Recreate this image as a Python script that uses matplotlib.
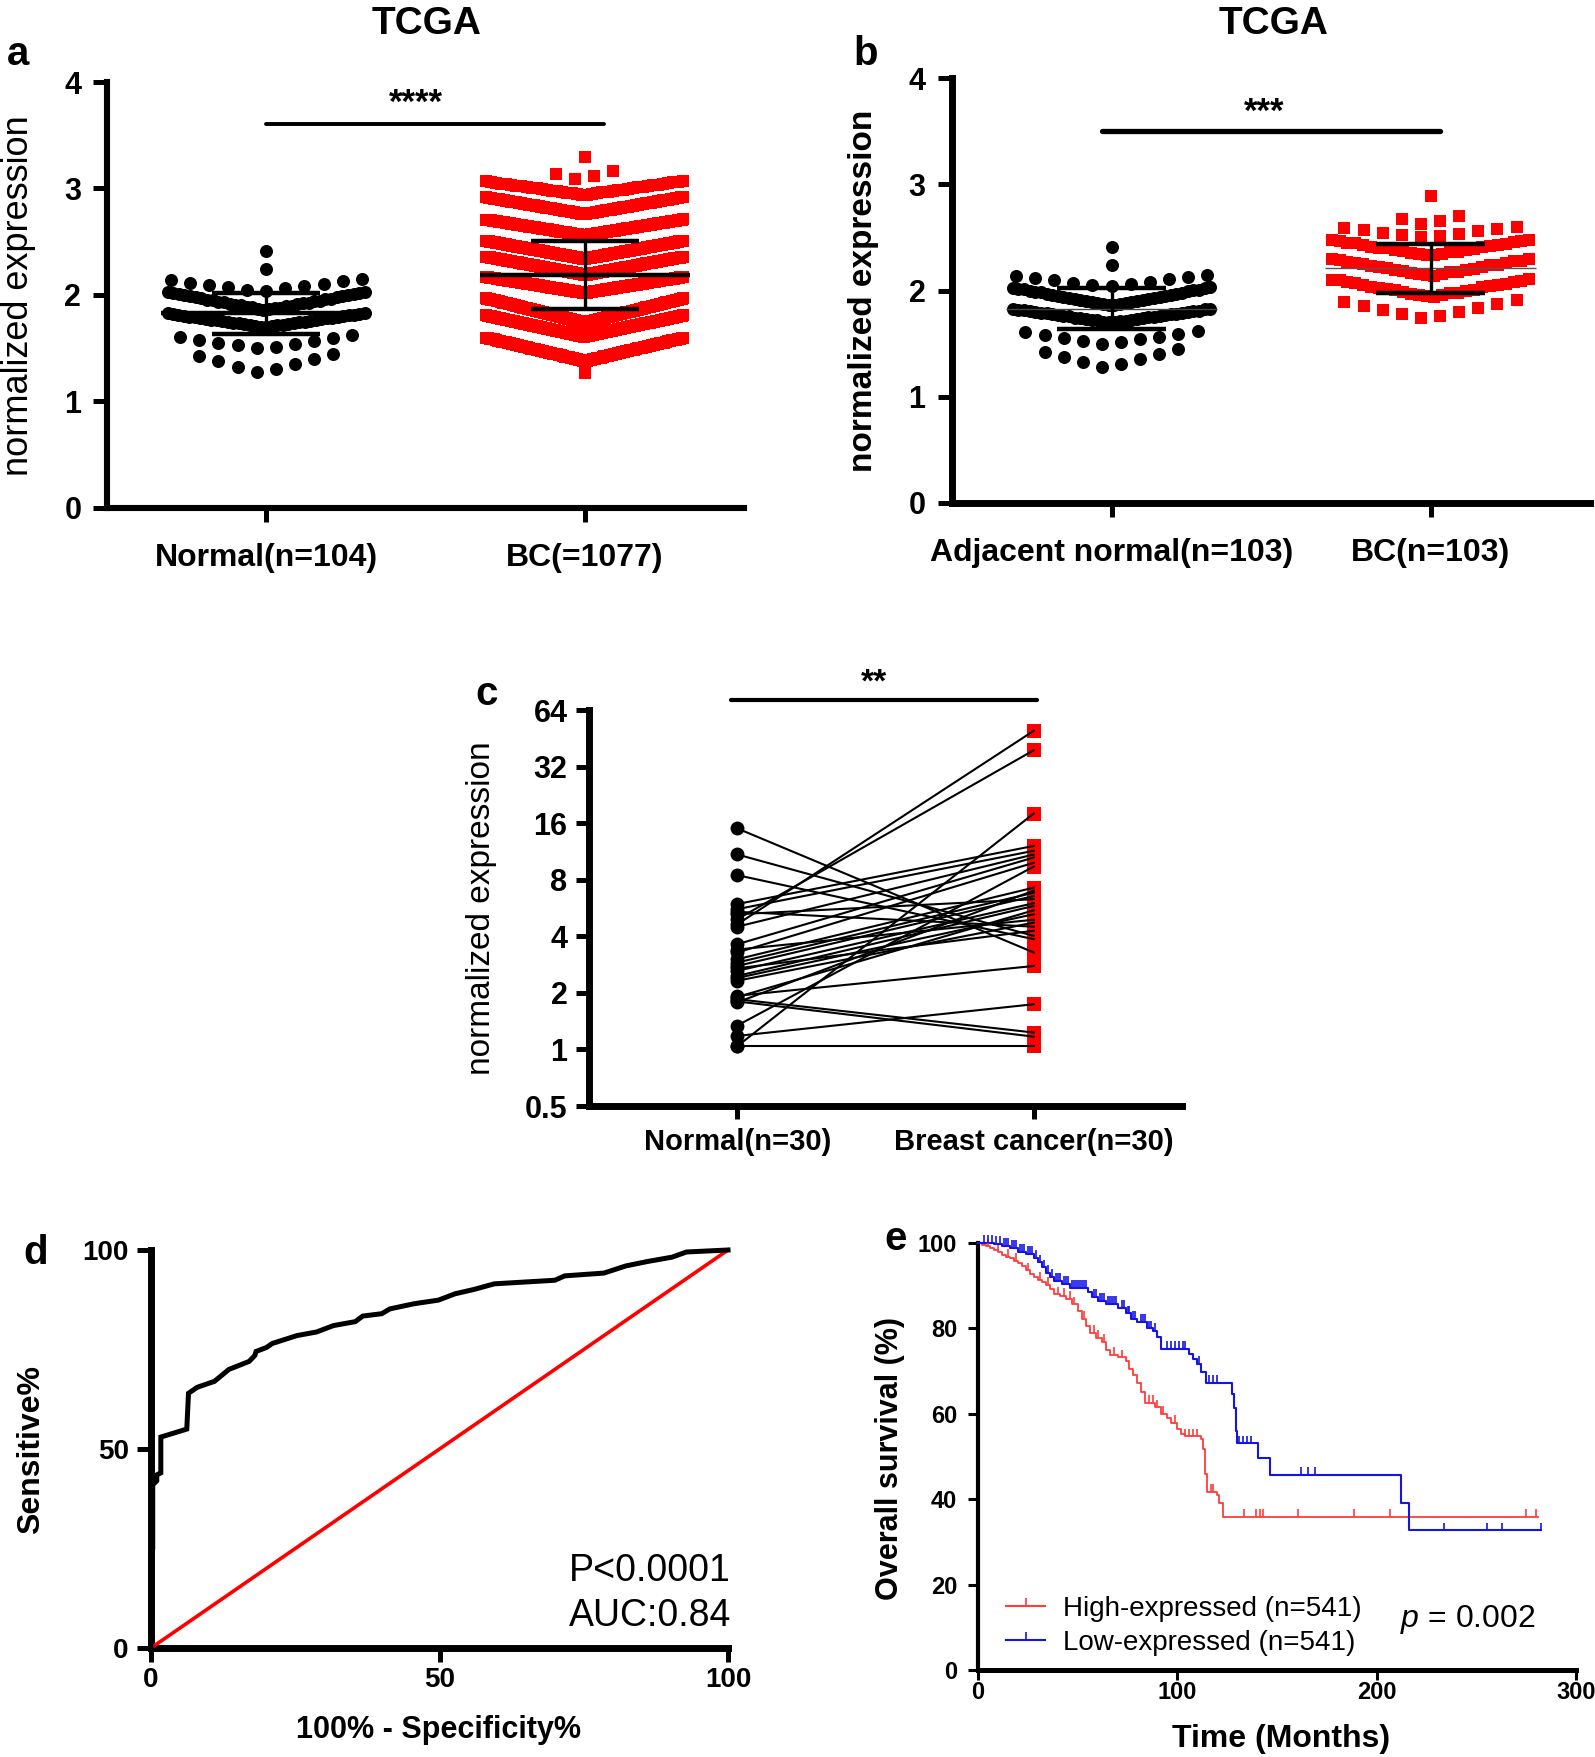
import numpy as np
import matplotlib
matplotlib.use('Agg')
import matplotlib.pyplot as plt
from matplotlib.lines import Line2D
from matplotlib.ticker import NullLocator

plt.rcParams['font.family'] = ['Liberation Sans', 'DejaVu Sans']
plt.rcParams['mathtext.fontset'] = 'custom'
plt.rcParams['mathtext.it'] = 'Liberation Sans:italic'
plt.rcParams['mathtext.rm'] = 'Liberation Sans'

# ---------------- data ----------------
# panel a : rows of the scatter-dot plot (value at row edge, value at row centre, count)
cats_a = ['Normal(n=104)', 'BC(=1077)']
a_norm_hi = [2.41, 2.24, 2.15, 2.03, 1.83, 1.62, 1.45]
a_norm_lo = [2.41, 2.24, 2.04, 1.86, 1.70, 1.50, 1.28]
a_norm_n = [1, 1, 11, 36, 37, 10, 8]
a_bc_hi = [3.30, 3.16, 3.07, 2.92, 2.71, 2.51, 2.36, 2.17, 1.97, 1.81, 1.60, 1.27]
a_bc_lo = [3.30, 3.09, 2.94, 2.76, 2.56, 2.34, 2.19, 2.02, 1.74, 1.61, 1.38, 1.27]
a_bc_n = [1, 4, 40, 80, 110, 140, 150, 170, 150, 130, 101, 1]
a_mean = [1.83, 2.19]
a_sd_hi = [2.02, 2.51]
a_sd_lo = [1.63, 1.87]

# panel b
cats_b = ['Adjacent normal(n=103)', 'BC(n=103)']
b_norm_hi = [2.41, 2.24, 2.15, 2.03, 1.83, 1.62, 1.45]
b_norm_lo = [2.41, 2.24, 2.04, 1.86, 1.70, 1.50, 1.28]
b_norm_n = [1, 1, 11, 36, 36, 10, 8]
b_bc_hi = [2.89, 2.70, 2.60, 2.48, 2.30, 2.11, 1.91]
b_bc_lo = [2.89, 2.63, 2.50, 2.33, 2.14, 1.94, 1.74]
b_bc_n = [1, 4, 10, 26, 26, 26, 10]
b_mean = [1.83, 2.21]
b_sd_hi = [2.02, 2.44]
b_sd_lo = [1.64, 1.98]

# panel c : paired samples
cats_c = ['Normal(n=30)', 'Breast cancer(n=30)']
c_normal = [15.0, 10.9, 8.46, 4.63, 4.93, 1.04, 1.34, 1.04, 1.18, 1.85,
            1.80, 1.93, 5.94, 5.58, 5.24, 4.50, 3.63, 3.28, 3.02, 2.90,
            2.78, 2.62, 2.46, 2.40, 2.32, 1.78, 1.90, 5.40, 2.70, 3.40]
c_cancer = [3.28, 4.02, 3.86, 49.6, 39.1, 18.0, 9.40, 1.04, 1.74, 1.23,
            1.17, 2.78, 12.1, 11.4, 6.30, 10.9, 10.5, 9.85, 7.26, 6.82,
            6.55, 6.00, 5.80, 5.24, 4.73, 7.00, 5.50, 4.50, 4.28, 4.90]
c_yticks = [0.5, 1, 2, 4, 8, 16, 32, 64]
c_yticklabels = ['0.5', '1', '2', '4', '8', '16', '32', '64']

# panel d : ROC curve
roc_x = [0, 0, 0.3, 0.3, 1.0, 1.0, 1.7, 1.7, 6.2, 6.5, 8, 11, 13.5, 17, 18, 18.2,
         20, 21, 25.3, 28.7, 31.6, 35.4, 36.7, 40, 41.4, 45.6, 49.8, 52.7, 56,
         59.5, 70, 71.7, 78.5, 82.3, 86, 90.3, 92.8, 100]
roc_y = [0, 24, 25, 41, 42, 43.5, 44, 53, 55, 64, 65.5, 67, 70, 72, 73.5, 74.5,
         75.5, 76.5, 78.5, 79.4, 81, 82, 83.4, 84, 85.2, 86.5, 87.4, 89, 90.1,
         91.5, 92.4, 93.5, 94.2, 96, 97.1, 98.2, 99.5, 100]

# panel e : Kaplan-Meier
high_t = [0, 2, 4, 6, 8, 10, 12, 14, 16, 18, 20, 22, 24, 26, 28, 30, 32, 34, 36, 38,
          41, 44, 47, 50, 52, 54, 56, 59, 62, 64, 66, 70, 74, 76, 78, 80, 82, 84,
          89, 92, 95, 97, 100, 102, 104, 112, 113, 114, 115, 120, 121, 122.8, 281]
high_s = [100, 99.6, 99.2, 98.8, 98.3, 97.8, 97.3, 96.8, 96.4, 95.8, 95.2, 94.5,
          93.6, 92.8, 92.0, 91.3, 90.8, 90.2, 89.2, 88.0, 87.6, 86.9, 85.6, 84.0,
          82.3, 80.5, 79.0, 77.8, 76.8, 75.0, 73.8, 73.2, 72.3, 70.5, 69.0, 67.2,
          65.0, 62.6, 61.5, 60.0, 59.0, 57.9, 56.5, 55.2, 54.7, 54.0, 51.8, 46.0,
          41.7, 40.9, 39.0, 35.8, 35.8]
high_cens = [5, 10, 15, 19, 25, 31, 35, 40, 43, 46, 48, 53, 58, 60, 63, 68, 72,
             86, 88, 90, 93, 99, 104, 106, 108, 110, 117, 118, 133.5, 139.4, 141.3,
             143, 160.6, 188.5, 206.7, 275, 280]
low_t = [0, 8, 12, 16, 20, 24, 28, 30, 32, 34, 36, 38, 42, 46, 55, 57, 60, 64, 70,
         74, 77, 80, 85, 88, 90, 92, 106, 108, 110, 112, 114.6, 127.6, 128.5,
         129.5, 130, 140.6, 146.5, 212.1, 216.2, 282.3]
low_s = [100, 99.8, 99.4, 98.9, 98.0, 97.4, 96.5, 95.5, 94.3, 93.0, 92.0, 91.2,
         90.5, 89.5, 88.6, 87.4, 86.5, 85.8, 84.8, 83.5, 82.3, 81.5, 80.0, 79.5,
         78.0, 75.2, 74.0, 72.8, 71.7, 69.8, 67.3, 64.6, 61.4, 56.0, 53.1, 49.6,
         45.7, 39.0, 32.7, 32.7]
low_cens = [3, 5, 7, 9, 11, 13, 14, 15, 17, 18, 19, 21, 22, 23, 25, 26, 27, 29, 31,
            33, 35, 37, 39, 40, 41, 43, 44, 45, 47, 48, 49, 50, 51, 52, 53, 54, 58,
            59, 61, 62, 63, 65, 66, 67, 68, 69, 72, 73, 75, 76, 78, 79, 82, 83, 84,
            86, 87, 89, 95, 97, 99, 101, 103, 104, 111, 116, 118, 120, 131, 133,
            135, 137, 161.8, 165.4, 168.9, 233.9, 255.2, 262.7, 282.3]

# ---------------- figure ----------------
W, H, DPI = 1595, 1757, 100
fig = plt.figure(figsize=(W / DPI, H / DPI), dpi=DPI)
fig.patch.set_facecolor('white')


def rect(l, t, r, b):
    return [l / W, 1 - b / H, (r - l) / W, (b - t) / H]


def ftext(x, y, s, **kw):
    fig.text(x / W, 1 - y / H, s, **kw)


def style(ax, spine_lw, tlen, tw, labelsize, xpad, ypad):
    for s in ['top', 'right']:
        ax.spines[s].set_visible(False)
    for s in ['left', 'bottom']:
        ax.spines[s].set_linewidth(spine_lw)
        ax.spines[s].set_capstyle('projecting')
    ax.tick_params(direction='out', length=tlen, width=tw, labelsize=labelsize,
                   colors='black')
    ax.tick_params(axis='x', pad=xpad)
    ax.tick_params(axis='y', pad=ypad)
    for lab in ax.get_xticklabels() + ax.get_yticklabels():
        lab.set_fontweight('bold')


def swarm(center, hi, lo, n, spacing=0.06, maxhalf=0.31):
    xs, ys = [], []
    for h, l, k in zip(hi, lo, n):
        half = min((k - 1) / 2 * spacing, maxhalf)
        pos = np.linspace(-half, half, k) if k > 1 else np.array([0.0])
        order = np.argsort(np.abs(pos), kind='stable')
        vals = np.linspace(l, h, k)
        y = np.empty(k)
        y[order] = vals
        xs.append(center + pos)
        ys.append(y)
    return np.concatenate(xs), np.concatenate(ys)


def dot_panel(ax, norm, bc, mean, sd_hi, sd_lo, mean_style):
    nx, ny = swarm(0, *norm)
    bx, by = swarm(1, *bc)
    ax.scatter(nx, ny, s=88, marker='o', color='black', linewidths=0, zorder=3)
    ax.scatter(bx, by, s=80, marker='s', color='#ff0000', linewidths=0, zorder=3)
    for i in range(2):
        ax.hlines(mean[i], i - 0.33, i + 0.33, zorder=5, **mean_style[i])
        ax.hlines([sd_hi[i], sd_lo[i]], i - 0.17, i + 0.17, color='black', lw=3.2, zorder=5)
        ax.vlines(i, sd_lo[i], sd_hi[i], color='black', lw=2.4, zorder=5)
    ax.set_xlim(-0.5, 1.5)
    ax.set_ylim(0, 4)
    ax.set_yticks([0, 1, 2, 3, 4])
    ax.set_xticks([0, 1])


# ---- panel a ----
ax_a = fig.add_axes(rect(107, 82, 744, 508))
dot_panel(ax_a, (a_norm_hi, a_norm_lo, a_norm_n), (a_bc_hi, a_bc_lo, a_bc_n),
          a_mean, a_sd_hi, a_sd_lo,
          [dict(color='black', lw=3.2), dict(color='black', lw=3.2)])
ax_a.set_xticklabels(cats_a)
style(ax_a, 4.4, 10, 3.6, 22, 15, 8.5)
ax_a.set_xticklabels(cats_a, fontsize=23, fontweight='bold')
ax_a.plot([0, 1.06], [3.61, 3.61], color='black', lw=2.8, clip_on=False,
          solid_capstyle='round')
ax_a.annotate('****', xy=(0.47, 3.61), xytext=(0, 8), textcoords='offset points',
              ha='center', va='baseline', fontsize=25, fontweight='bold')

# ---- panel b ----
ax_b = fig.add_axes(rect(952, 78, 1590, 503))
dot_panel(ax_b, (b_norm_hi, b_norm_lo, b_norm_n), (b_bc_hi, b_bc_lo, b_bc_n),
          b_mean, b_sd_hi, b_sd_lo,
          [dict(color='#444444', lw=1.0), dict(color='#555555', lw=1.0)])
ax_b.set_xticklabels(cats_b)
style(ax_b, 5.0, 10, 3.6, 22, 15, 9)
ax_b.set_xticklabels(cats_b, fontsize=23, fontweight='bold')
ax_b.plot([-0.03, 1.03], [3.50, 3.50], color='black', lw=3.8, clip_on=False,
          solid_capstyle='round')
ax_b.annotate('***', xy=(0.48, 3.50), xytext=(0, 7), textcoords='offset points',
              ha='center', va='baseline', fontsize=25, fontweight='bold')

# ---- panel c ----
ax_c = fig.add_axes(rect(589, 710, 1182, 1106))
for yn, yc in zip(c_normal, c_cancer):
    ax_c.plot([0, 1], [yn, yc], color='black', lw=1.5, zorder=4)
ax_c.scatter(np.zeros(len(c_normal)), c_normal, s=100, marker='o', color='black',
             linewidths=0, zorder=3)
ax_c.scatter(np.ones(len(c_cancer)), c_cancer, s=88, marker='s', color='#ff0000',
             linewidths=0, zorder=3)
ax_c.set_yscale('log', base=2)
ax_c.set_ylim(0.5, 64)
ax_c.set_xlim(-0.5, 1.5)
ax_c.set_yticks(c_yticks)
ax_c.set_yticklabels(c_yticklabels)
ax_c.yaxis.set_minor_locator(NullLocator())
ax_c.set_xticks([0, 1])
ax_c.set_xticklabels(cats_c)
style(ax_c, 5.0, 9.5, 3.6, 22, 6, 6)
ax_c.set_xticklabels(cats_c, fontsize=21, fontweight='bold')
ax_c.plot([-0.02, 1.01], [72, 72], color='black', lw=3.0, clip_on=False,
          solid_capstyle='round')
ax_c.annotate('**', xy=(0.46, 72), xytext=(0, 6), textcoords='offset points',
              ha='center', va='baseline', fontsize=24, fontweight='bold',
              annotation_clip=False)

# ---- panel d ----
ax_d = fig.add_axes(rect(151, 1250, 728, 1648))
ax_d.plot([0, 100], [0, 100], color='#ff0000', lw=2.6, clip_on=False, zorder=3)
ax_d.plot(roc_x, roc_y, color='black', lw=3.6, clip_on=False, zorder=4,
          solid_joinstyle='miter')
ax_d.set_xlim(0, 100)
ax_d.set_ylim(0, 100)
ax_d.set_xticks([0, 50, 100])
ax_d.set_yticks([0, 50, 100])
style(ax_d, 5.0, 10, 3.6, 20, 3.5, 6)
ax_d.text(100.5, 19.3, 'P<0.0001', ha='right', va='center', fontsize=27)
ax_d.text(100.5, 8.0, 'AUC:0.84', ha='right', va='center', fontsize=27)

# ---- panel e ----
ax_e = fig.add_axes(rect(978, 1243, 1576, 1670))
red, blue = '#ff3b3b', '#1414e6'
ax_e.step(high_t, high_s, where='post', color=red, lw=1.3, clip_on=False, zorder=3)
ax_e.step(low_t, low_s, where='post', color=blue, lw=1.5, clip_on=False, zorder=4)
for t, s, cens, col in [(high_t, high_s, high_cens, red), (low_t, low_s, low_cens, blue)]:
    t = np.asarray(t)
    s = np.asarray(s)
    idx = np.searchsorted(t, cens, side='right') - 1
    ys = s[idx]
    ax_e.vlines(cens, ys, ys + 1.8, color=col, lw=1.2, clip_on=False, zorder=4)
ax_e.set_xlim(0, 300)
ax_e.set_ylim(0, 100)
ax_e.set_xticks([0, 100, 200, 300])
ax_e.set_yticks([0, 20, 40, 60, 80, 100])
style(ax_e, 3.0, 7, 2.2, 17, 1, 8)
ax_e.spines['bottom'].set_linewidth(3.6)
cmark = [(0, 0), (0, 1)]
handles = [Line2D([0], [0], color=red, lw=1.5, marker=cmark, markersize=12,
                  markeredgecolor=red, markeredgewidth=1.2),
           Line2D([0], [0], color=blue, lw=1.5, marker=cmark, markersize=12,
                  markeredgecolor=blue, markeredgewidth=1.2)]
ax_e.legend(handles, ['High-expressed (n=541)', 'Low-expressed (n=541)'],
            loc='upper left', bbox_to_anchor=(0.047, 0.173), frameon=False,
            fontsize=20, handlelength=1.4, handletextpad=0.65, labelspacing=0.28,
            borderaxespad=0, borderpad=0)
ax_e.text(279.5, 11.9, r'$\mathit{p}$ = 0.002', ha='right', va='center', fontsize=23)

# ---------------- figure-level text ----------------
ftext(427, 33.5, 'TCGA', ha='center', va='baseline', fontsize=28, fontweight='bold')
ftext(1274, 33.5, 'TCGA', ha='center', va='baseline', fontsize=28, fontweight='bold')
ftext(18, 65, 'a', ha='center', va='baseline', fontsize=29, fontweight='bold')
ftext(866, 65, 'b', ha='center', va='baseline', fontsize=29, fontweight='bold')
ftext(487, 705, 'c', ha='center', va='baseline', fontsize=29, fontweight='bold')
ftext(36, 1264, 'd', ha='center', va='baseline', fontsize=29, fontweight='bold')
ftext(896, 1250, 'e', ha='center', va='baseline', fontsize=29, fontweight='bold')

ftext(19, 296, 'normalized expression', rotation=90, ha='center', va='center', fontsize=26)
ftext(864, 291, 'normalized expression', rotation=90, ha='center', va='center',
      fontsize=24, fontweight='bold')
ftext(482, 908, 'normalized expression', rotation=90, ha='center', va='center', fontsize=24)
ftext(31, 1450, 'Sensitive%', rotation=90, ha='center', va='center', fontsize=23,
      fontweight='bold')
ftext(439, 1730, '100% - Specificity%', ha='center', va='center', fontsize=22,
      fontweight='bold')
ftext(890, 1458, 'Overall survival (%)', rotation=90, ha='center', va='center',
      fontsize=22, fontweight='bold')
ftext(1281, 1739, 'Time (Months)', ha='center', va='center', fontsize=23,
      fontweight='bold')

fig.savefig('out.png', dpi=DPI, facecolor='white')
